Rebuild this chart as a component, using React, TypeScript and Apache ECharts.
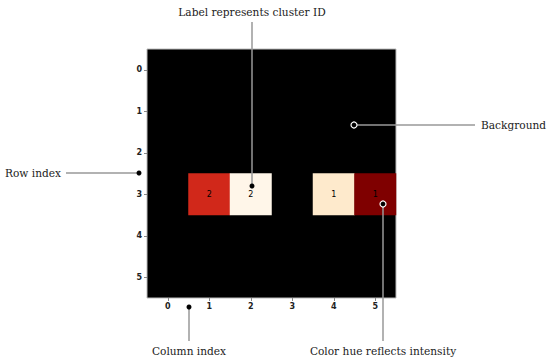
import React, { useEffect, useRef } from "react";
import * as echarts from "echarts";

const rowLabels = ["0", "1", "2", "3", "4", "5"];
const colLabels = ["0", "1", "2", "3", "4", "5"];
const cellRow = [3, 3, 3, 3];
const cellCol = [1, 2, 4, 5];
const intensity = [0.77, 0.01, 0.11, 1.0];
const clusterId = [2, 2, 1, 1];
const orRd = ["#fff7ec", "#fee8c8", "#fdd49e", "#fdbb84", "#fc8d59", "#ef6548", "#d7301f", "#b30000", "#7f0000"];

const SERIF = "'DejaVu Serif', 'Liberation Serif', serif";
const LINE = "#999999";

export default function App() {
  const ref = useRef<HTMLDivElement>(null);
  useEffect(() => {
    document.body.style.margin = "0";
    const chart = echarts.init(ref.current!, null, { renderer: "svg" });
    const data = cellRow.map((r, i) => [cellCol[i], r, intensity[i], clusterId[i]]);
    const txt = (x: number, y: number, t: string, align: string) => ({
      type: "text",
      x,
      y,
      z: 100,
      style: {
        text: t,
        fill: "#222",
        fontFamily: SERIF,
        fontSize: 10.6,
        align,
        verticalAlign: "middle",
      },
    });
    const ln = (x1: number, y1: number, x2: number, y2: number) => ({
      type: "line",
      z: 100,
      shape: { x1, y1, x2, y2 },
      style: { stroke: LINE, lineWidth: 1.5 },
    });
    const dot = (cx: number, cy: number, hollow: boolean) => ({
      type: "circle",
      z: 101,
      shape: { cx, cy, r: hollow ? 3 : 2.5 },
      style: hollow ? { fill: "#000", stroke: "#fff", lineWidth: 1.2 } : { fill: "#000" },
    });
    chart.setOption({
      animation: false,
      grid: {
        left: 147,
        top: 49,
        width: 249,
        height: 249,
        show: true,
        backgroundColor: "#000",
        borderColor: "#bbbbbb",
        borderWidth: 1,
      },
      xAxis: {
        type: "category",
        data: colLabels,
        axisLine: { show: false },
        axisTick: { show: true, alignWithLabel: true, length: 3, lineStyle: { color: "#888" } },
        axisLabel: { fontFamily: "DejaVu Sans", fontSize: 8, fontWeight: "bold", color: "#222", margin: 4 },
        splitLine: { show: false },
      },
      yAxis: {
        type: "category",
        data: rowLabels,
        inverse: true,
        axisLine: { show: false },
        axisTick: { show: true, alignWithLabel: true, length: 3, lineStyle: { color: "#888" } },
        axisLabel: { fontFamily: "DejaVu Sans", fontSize: 8, fontWeight: "bold", color: "#222", margin: 5 },
        splitLine: { show: false },
      },
      visualMap: {
        show: false,
        type: "continuous",
        min: 0,
        max: 1,
        dimension: 2,
        inRange: { color: orRd },
      },
      series: [
        {
          type: "heatmap",
          data,
          label: {
            show: true,
            formatter: (p: any) => String(p.value[3]),
            fontFamily: "DejaVu Sans",
            fontSize: 8,
            color: "#000",
          },
          emphasis: { disabled: true },
        },
      ],
      graphic: [
        ln(252, 22, 252, 186),
        dot(252, 186, false),
        txt(252, 12, "Label represents cluster ID", "center"),
        ln(66, 173, 139, 173),
        dot(139, 173, false),
        txt(5, 173, "Row index", "left"),
        ln(357, 125, 475, 125),
        dot(354, 125, true),
        txt(481, 125, "Background", "left"),
        ln(189, 307, 189, 341),
        dot(189, 307, false),
        txt(189, 351, "Column index", "center"),
        ln(383, 204, 383, 341),
        dot(383, 204, true),
        txt(383, 351, "Color hue reflects intensity", "center"),
      ],
    });
    return () => chart.dispose();
  }, []);
  return <div ref={ref} style={{ width: 550, height: 362 }} />;
}
